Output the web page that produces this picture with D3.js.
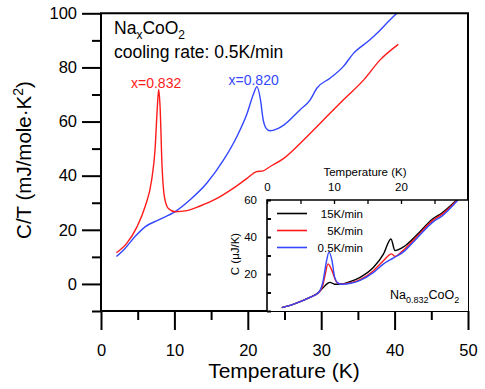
<!DOCTYPE html>
<html>
<head>
<meta charset="utf-8">
<script src="https://cdnjs.cloudflare.com/ajax/libs/d3/7.8.5/d3.min.js"></script>
<style>
  body { margin: 0; background: #fff; }
  text { font-family: "Liberation Sans", Arial, sans-serif; }
</style>
</head>
<body>
<div id="chart"></div>
<script>
// main panel: C/T vs T for two compositions
var redT  = [2.1, 3.5, 4.9, 6.0, 6.9, 7.36, 7.68, 7.86, 8.05, 8.32, 8.64, 9.18, 10.1, 11.7, 13.5, 15.8, 18.0, 19.9, 21.2, 22.1, 23.0, 24.9, 27.6, 30.3, 33.0, 35.8, 38.0, 40.5];
var redCT = [11.5, 15.0, 21.1, 28.5, 38.4, 49.5, 65.5, 71.9, 65.5, 43.3, 32.2, 27.9, 26.7, 27.1, 28.8, 31.6, 35.3, 39.0, 41.5, 41.8, 43.3, 46.4, 53.2, 60.6, 68.0, 75.4, 82.7, 88.5];
var blueT  = [2.1, 3.3, 4.6, 6.0, 7.8, 10.1, 12.1, 14.4, 16.7, 18.5, 19.9, 20.8, 21.25, 21.7, 22.1, 22.5, 23.0, 24.0, 24.9, 27.1, 28.5, 29.4, 31.2, 33.0, 34.4, 36.6, 37.6, 38.7, 40.3];
var blueCT = [10.1, 13.2, 17.4, 21.1, 23.6, 26.7, 31.0, 37.2, 45.8, 54.4, 63.0, 70.4, 72.9, 68.5, 60.6, 57.5, 56.6, 57.3, 58.7, 64.3, 68.0, 72.3, 76.0, 80.3, 85.2, 90.1, 92.6, 95.7, 100];

// inset: C vs T for three cooling rates (x=0.832)
var rateLabels = ["15K/min", "5K/min", "0.5K/min"];
var rateColors = ["#000000", "#ff1a1a", "#3347ff"];
var inT = [
  [2.2, 3.9, 6.4, 7.7, 8.4, 9.0, 9.4, 10.1, 10.9, 12.5, 13.9, 15.9, 17.4, 18.5, 19.1, 20.3, 22.3, 24.8, 26.1, 28.3],
  [2.2, 3.9, 6.4, 7.7, 8.3, 8.7, 9.1, 9.7, 10.4, 11.1, 12.5, 13.9, 15.9, 17.4, 18.6, 19.1, 20.3, 22.3, 24.8, 26.1, 28.4],
  [2.2, 3.9, 6.4, 7.7, 8.3, 8.9, 9.25, 9.7, 10.1, 10.6, 11.1, 12.5, 13.9, 15.9, 17.4, 18.9, 20.3, 22.3, 24.8, 26.1, 28.5]
];
var inC = [
  [1.8, 3.6, 7.3, 10.0, 12.7, 14.8, 15.5, 14.5, 14.5, 16.0, 18.2, 23.6, 30.9, 38.9, 32.7, 34.5, 40.9, 50.0, 53.0, 60.0],
  [1.8, 3.6, 7.3, 10.0, 13.5, 20.0, 25.5, 21.8, 15.5, 14.5, 15.3, 17.0, 21.8, 27.3, 30.9, 29.5, 32.7, 40.0, 49.1, 52.2, 60.0],
  [1.8, 3.6, 7.3, 10.0, 15.0, 27.3, 31.8, 27.3, 18.2, 15.1, 14.5, 15.0, 16.6, 20.9, 25.5, 28.7, 31.8, 39.1, 48.2, 51.3, 60.0]
];

var xMajor = [0, 10, 20, 30, 40, 50], xMinor = [5, 15, 25, 35, 45];
var yMajor = [0, 20, 40, 60, 80, 100], yMinor = [-10, 10, 30, 50, 70, 90];
var inXMajor = [0, 10, 20], inXMinor = [0, 5, 10, 15, 20, 25];
var inYMajor = [20, 40, 60], inYMinor = [0, 10, 20, 30, 40, 50, 60];

var svg = d3.select("#chart").append("svg").attr("width", 485).attr("height", 389);

var x = d3.scaleLinear().domain([0, 50]).range([101, 468]);
var y = d3.scaleLinear().domain([-10, 100]).range([311, 13.3]);

function zip(a, b) { return a.map(function(v, i) { return [v, b[i]]; }); }

var line = d3.line()
    .x(function(d) { return x(d[0]); })
    .y(function(d) { return y(d[1]); })
    .curve(d3.curveMonotoneX);

svg.append("path").datum(zip(blueT, blueCT))
    .attr("fill", "none").attr("stroke", "#3347ff").attr("stroke-width", 1.4).attr("d", line);
svg.append("path").datum(zip(redT, redCT))
    .attr("fill", "none").attr("stroke", "#ff1a1a").attr("stroke-width", 1.4).attr("d", line);

// frame
svg.append("path")
    .attr("d", "M" + x(0) + "," + y(-10) + "V" + y(100) + "H" + x(50) + "V" + y(-10) + "Z")
    .attr("fill", "none").attr("stroke", "#000").attr("stroke-width", 2);

function styleAxis(g, fs) {
  g.select(".domain").remove();
  g.selectAll("line").attr("stroke", "#000").attr("stroke-width", 2);
  g.selectAll("text").attr("fill", "#000").style("font-size", fs + "px").style("font-family", "Liberation Sans, Arial, sans-serif");
}

svg.append("g").attr("transform", "translate(0," + y(-10) + ")")
    .call(d3.axisBottom(x).tickValues(xMajor).tickSize(19).tickPadding(14).tickFormat(d3.format("d")))
    .call(styleAxis, 16.5);
svg.append("g").attr("transform", "translate(0," + y(-10) + ")")
    .call(d3.axisBottom(x).tickValues(xMinor).tickSize(9).tickFormat(""))
    .call(styleAxis, 16.5);
svg.append("g").attr("transform", "translate(" + x(0) + ",0)")
    .call(d3.axisLeft(y).tickValues(yMajor).tickSize(19).tickPadding(5).tickFormat(d3.format("d")))
    .call(styleAxis, 16.5);
svg.append("g").attr("transform", "translate(" + x(0) + ",0)")
    .call(d3.axisLeft(y).tickValues(yMinor).tickSize(9).tickFormat(""))
    .call(styleAxis, 16.5);

svg.append("text").attr("x", 284).attr("y", 378).attr("text-anchor", "middle")
    .style("font-size", "21px").text("Temperature (K)");
var yl = svg.append("text").attr("transform", "translate(31,160) rotate(-90)")
    .attr("text-anchor", "middle").style("font-size", "20.5px");
yl.append("tspan").text("C/T (mJ/mole\u00b7K");
yl.append("tspan").attr("dy", -8).style("font-size", "14px").text("2");
yl.append("tspan").attr("dy", 8).text(")");

// annotations
var t1 = svg.append("text").attr("x", 114).attr("y", 34).style("font-size", "17.5px");
t1.append("tspan").text("Na");
t1.append("tspan").attr("dy", 5).style("font-size", "12px").text("x");
t1.append("tspan").attr("dy", -5).text("CoO");
t1.append("tspan").attr("dy", 5).style("font-size", "12px").text("2");
svg.append("text").attr("x", 114).attr("y", 58).style("font-size", "17.5px").text("cooling rate: 0.5K/min");
svg.append("text").attr("x", 131).attr("y", 88).attr("fill", "#ff1a1a").style("font-size", "14px").text("x=0.832");
svg.append("text").attr("x", 228.5).attr("y", 85).attr("fill", "#3347ff").style("font-size", "14px").text("x=0.820");

// inset
var ix = d3.scaleLinear().domain([0, 30]).range([267, 468]);
var iy = d3.scaleLinear().domain([0, 60]).range([311, 200]);

svg.append("rect").attr("x", 267).attr("y", 200).attr("width", 201).attr("height", 111).attr("fill", "#fff");
svg.append("clipPath").attr("id", "inclip")
  .append("rect").attr("x", 267).attr("y", 200).attr("width", 201).attr("height", 111);

var iline = d3.line()
    .x(function(d) { return ix(d[0]); })
    .y(function(d) { return iy(d[1]); })
    .curve(d3.curveMonotoneX);

var ig = svg.append("g").attr("clip-path", "url(#inclip)");
inT.forEach(function(ts, k) {
  ig.append("path").datum(zip(ts, inC[k]))
    .attr("fill", "none").attr("stroke", rateColors[k]).attr("stroke-width", 1.4).attr("d", iline);
});

svg.append("path").attr("d", "M267,311V200H468")
    .attr("fill", "none").attr("stroke", "#000").attr("stroke-width", 1.6);

svg.append("g").attr("transform", "translate(0,200)")
    .call(d3.axisTop(ix).tickValues(inXMinor).tickSizeInner(-4).tickSizeOuter(0).tickFormat(""))
    .call(styleAxis, 11.5);
svg.append("g").attr("transform", "translate(0,200)")
    .call(d3.axisTop(ix).tickValues(inXMajor).tickSize(0).tickPadding(9).tickFormat(d3.format("d")))
    .call(styleAxis, 11.5);
svg.append("g").attr("transform", "translate(267,0)")
    .call(d3.axisLeft(iy).tickValues(inYMinor).tickSizeInner(-4).tickSizeOuter(0).tickFormat(""))
    .call(styleAxis, 11.5);
svg.append("g").attr("transform", "translate(267,0)")
    .call(d3.axisLeft(iy).tickValues(inYMajor).tickSize(0).tickPadding(10).tickFormat(d3.format("d")))
    .call(styleAxis, 11.5);
svg.selectAll("g line").filter(function() { return +d3.select(this).attr("x2") === -4 || +d3.select(this).attr("y2") === 4; })
    .attr("stroke-width", 1.3);

svg.append("text").attr("x", 365).attr("y", 176).attr("text-anchor", "middle")
    .style("font-size", "11.5px").text("Temperature (K)");
svg.append("text").attr("transform", "translate(239,254) rotate(-90)").attr("text-anchor", "middle")
    .style("font-size", "11.5px").text("C (\u03bcJ/K)");

// legend
rateLabels.forEach(function(lab, k) {
  var ly = 213.5 + k * 17;
  svg.append("line").attr("x1", 277).attr("x2", 307).attr("y1", ly).attr("y2", ly)
    .attr("stroke", rateColors[k]).attr("stroke-width", 1.6);
  svg.append("text").attr("x", 363).attr("y", ly + 4).attr("text-anchor", "end")
    .style("font-size", "11.5px").text(lab);
});

var t2 = svg.append("text").attr("x", 390).attr("y", 298.5).style("font-size", "12.5px");
t2.append("tspan").text("Na");
t2.append("tspan").attr("dy", 4).style("font-size", "9px").text("0.832");
t2.append("tspan").attr("dy", -4).text("CoO");
t2.append("tspan").attr("dy", 4).style("font-size", "9px").text("2");
</script>
</body>
</html>
